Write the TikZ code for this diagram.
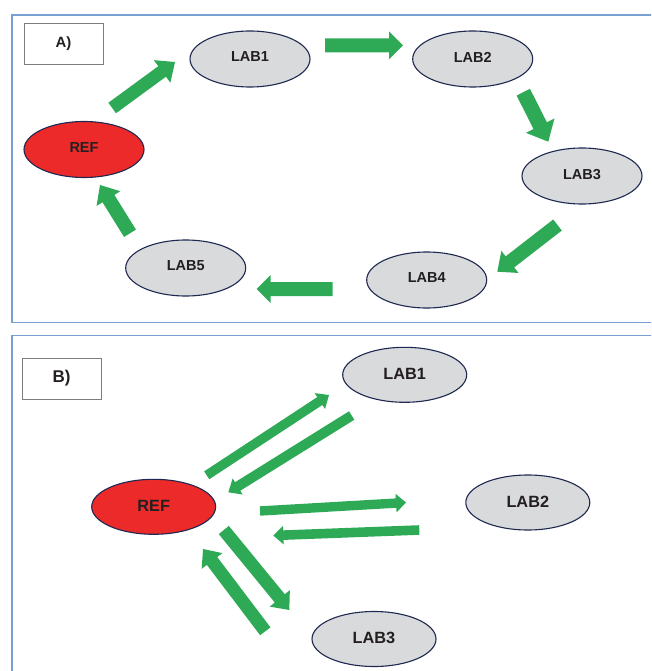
\documentclass[tikz,border=0pt]{standalone}
\usepackage{fontspec}
\setmainfont{Liberation Sans}
\usetikzlibrary{shapes.geometric,calc}
\definecolor{framebl}{RGB}{120,160,210}
\definecolor{agreen}{RGB}{46,170,87}
\definecolor{refred}{RGB}{236,42,42}
\definecolor{labgray}{RGB}{217,218,220}
\definecolor{edgenavy}{RGB}{30,40,80}
\definecolor{txtcol}{RGB}{35,31,32}
\definecolor{boxgray}{RGB}{125,125,125}
% #1 tail, #2 tip, #3 half shaft width, #4 half head width, #5 head length
\newcommand\blockarrow[5]{%
  \coordinate (ba-h) at ($(#2)!#5!(#1)$);
  \fill[blockarr] ($(#1)!#3!90:(#2)$) -- ($(ba-h)!#3!90:(#2)$) -- ($(ba-h)!#4!90:(#2)$) -- (#2)
    -- ($(ba-h)!#4!-90:(#2)$) -- ($(ba-h)!#3!-90:(#2)$) -- ($(#1)!#3!-90:(#2)$) -- cycle;}
\begin{document}
\begin{tikzpicture}[x=1pt,y=-1pt,
  panelframe/.style={draw=framebl,line width=1.8pt},
  labA/.style={ellipse,draw=edgenavy,line width=1.1pt,fill=labgray,minimum width=120pt,minimum height=56pt,inner sep=0pt,text=txtcol,font=\fontsize{14.5}{17}\selectfont\bfseries},
  labB/.style={labA,minimum width=124pt,minimum height=55pt,font=\fontsize{16.3}{19}\selectfont\bfseries},
  refA/.style={labA,fill=refred},
  refB/.style={labB,fill=refred},
  tagbox/.style={draw=boxgray,line width=1pt,minimum width=79pt,minimum height=41pt,inner sep=0pt,text=txtcol},
  blockarr/.style={fill=agreen}]
\useasboundingbox (0,0) rectangle (651,671);
\clip (0,0) rectangle (651,671);
% panels
\draw[panelframe] (12,15) rectangle (680,322.5);
\draw[panelframe] (12,335.5) rectangle (680,700);
% tags
\node[tagbox,font=\fontsize{14.9}{17}\selectfont\bfseries] (tagA) at (63.5,44.5) {\raisebox{4pt}{A)}};
\node[tagbox,font=\fontsize{17}{20}\selectfont\bfseries] (tagB) at (61.5,378.5) {\raisebox{4pt}{B)}};
% panel A nodes
\node[refA] (refa) at (84,149.5) {\raisebox{4.5pt}{REF}};
\node[labA] (laba1) at (250,59) {\raisebox{4pt}{LAB1}};
\node[labA] (laba2) at (472.7,59) {\raisebox{4pt}{LAB2}};
\node[labA] (laba3) at (582,176) {\raisebox{4pt}{LAB3}};
\node[labA] (laba4) at (426.7,280) {\raisebox{4pt}{LAB4}};
\node[labA] (laba5) at (185.7,268) {\raisebox{4pt}{LAB5}};
% panel A arrows
\coordinate (a1t) at (112.2,108); \coordinate (a1h) at (175,62);
\coordinate (a2t) at (325,45.3);  \coordinate (a2h) at (403,45.3);
\coordinate (a3t) at (523.3,92.2); \coordinate (a3h) at (548.3,141.7);
\coordinate (a4t) at (557.5,225); \coordinate (a4h) at (497.3,271.7);
\coordinate (a5t) at (332.7,289); \coordinate (a5h) at (256.7,289);
\coordinate (a6t) at (130,233.3); \coordinate (a6h) at (100,185);
\blockarrow{a1t}{a1h}{6.5pt}{14pt}{16pt}
\blockarrow{a2t}{a2h}{7pt}{14pt}{14pt}
\blockarrow{a3t}{a3h}{7.5pt}{16pt}{18pt}
\blockarrow{a4t}{a4h}{7pt}{14pt}{16pt}
\blockarrow{a5t}{a5h}{7pt}{14pt}{14pt}
\blockarrow{a6t}{a6h}{7pt}{14pt}{16pt}
% panel B nodes
\node[refB] (refb) at (153.7,506.8) {\raisebox{2.5pt}{REF}};
\node[labB] (labb1) at (404.7,374.8) {\raisebox{1pt}{LAB1}};
\node[labB] (labb2) at (527.8,502.5) {\raisebox{2pt}{LAB2}};
\node[labB] (labb3) at (374,639) {\raisebox{2pt}{LAB3}};
% panel B arrows
\coordinate (b1t) at (206.7,475.3); \coordinate (b1h) at (329,395);
\coordinate (b2t) at (351.7,415.5); \coordinate (b2h) at (228.3,492.3);
\coordinate (b3t) at (260,511);     \coordinate (b3h) at (406,502.5);
\coordinate (b4t) at (419.3,530);   \coordinate (b4h) at (273.3,535.5);
\coordinate (b5t) at (223.8,530);   \coordinate (b5h) at (289.3,610);
\coordinate (b6t) at (265.3,631.3); \coordinate (b6h) at (203,549);
\blockarrow{b1t}{b1h}{4.7pt}{9.5pt}{11pt}
\blockarrow{b2t}{b2h}{5pt}{9.5pt}{11pt}
\blockarrow{b3t}{b3h}{4.7pt}{9.3pt}{10pt}
\blockarrow{b4t}{b4h}{4.8pt}{9.3pt}{10pt}
\blockarrow{b5t}{b5h}{6.5pt}{13pt}{15pt}
\blockarrow{b6t}{b6h}{6.5pt}{13pt}{15pt}
\end{tikzpicture}
\end{document}
